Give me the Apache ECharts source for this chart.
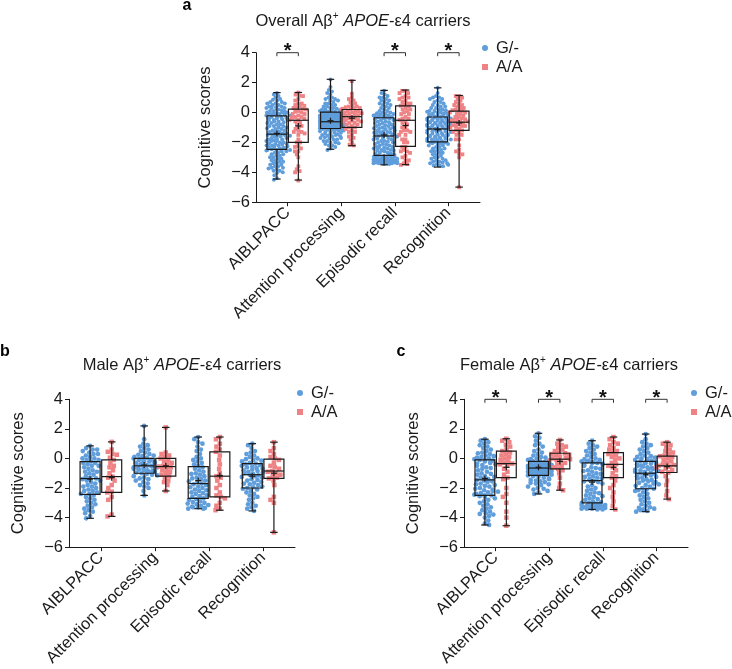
<!DOCTYPE html>
<html>
<head>
<meta charset="utf-8">
<script src="https://cdn.jsdelivr.net/npm/echarts@6/dist/echarts.min.js"></script>
<style>
html, body { margin: 0; padding: 0; background: #fff; }
#chart { width: 732px; height: 669px; }
</style>
</head>
<body>
<div id="chart"></div>
<script>
var categories = ['AIBLPACC', 'Attention processing', 'Episodic recall', 'Recognition'];
var groups = ['G/-', 'A/A'];
var yTicks = [-6, -4, -2, 0, 2, 4];

// box stats per category: [min, Q1, median, Q3, max, mean]
var overallGBox = [[-4.45, -2.47, -1.45, -0.22, 1.33, -1.4], [-2.46, -1.07, -0.62, 0.02, 2.22, -0.55], [-3.5, -2.87, -1.57, -0.35, 1.48, -1.5], [-3.65, -1.97, -1.1, -0.3, 1.65, -1.15]];
var overallABox = [[-4.52, -2.0, -0.52, 0.22, 1.34, -0.9], [-2.22, -1.0, -0.28, 0.2, 2.15, -0.38], [-3.49, -2.26, -0.52, 0.44, 1.5, -0.87], [-4.99, -1.19, -0.65, 0.09, 1.14, -0.7]];
var maleGBox = [[-4.05, -2.43, -1.36, -0.21, 0.85, -1.4], [-2.5, -1.0, -0.5, 0.0, 2.2, -0.45], [-3.4, -2.7, -1.7, -0.55, 1.45, -1.5], [-3.55, -2.0, -1.1, -0.35, 1.0, -1.2]];
var maleABox = [[-3.92, -2.29, -1.23, -0.1, 1.12, -1.3], [-2.2, -1.2, -0.55, 0.0, 2.1, -0.5], [-3.5, -2.6, -1.2, 0.45, 1.45, -1.15], [-5.0, -1.35, -0.85, -0.05, 1.1, -1.0]];
var femaleGBox = [[-4.5, -2.5, -1.45, -0.1, 1.3, -1.35], [-2.4, -1.15, -0.65, -0.2, 1.7, -0.6], [-3.45, -3.0, -1.5, -0.3, 1.2, -1.6], [-3.6, -2.05, -1.0, -0.2, 1.65, -1.1]];
var femaleABox = [[-4.55, -1.3, -0.35, 0.5, 1.33, -0.6], [-2.15, -0.7, -0.05, 0.35, 1.25, -0.2], [-3.45, -1.3, -0.4, 0.4, 1.45, -0.6], [-2.75, -0.95, -0.5, 0.15, 1.1, -0.55]];

// individual scores (male / female); overall carriers = male + female
var maleGPts = [
  [0.85, 0.7, 0.6, 0.6, 0.5, 0.4, 0.3, 0.3, 0.2, 0.1, 0.0, 0.0, -0.1, -0.1, -0.2,
   -0.3, -0.3, -0.4, -0.5, -0.5, -0.6, -0.7, -0.8, -0.9, -0.9, -1.0, -1.1, -1.2, -1.3, -1.35,
   -1.4, -1.5, -1.5, -1.6, -1.7, -1.8, -1.9, -1.9, -2.0, -2.1, -2.2, -2.2, -2.3, -2.4, -2.4,
   -2.5, -2.6, -2.7, -2.8, -2.9, -3.0, -3.1, -3.2, -3.3, -3.4, -3.5, -3.6, -3.7, -3.9, -4.05],
  [2.2, 1.3, 1.0, 0.9, 0.8, 0.7, 0.6, 0.5, 0.4, 0.3, 0.25, 0.2, 0.15, 0.1, 0.05,
   0.0, -0.05, -0.1, -0.1, -0.15, -0.2, -0.2, -0.25, -0.3, -0.3, -0.35, -0.4, -0.4, -0.45, -0.5,
   -0.5, -0.55, -0.6, -0.6, -0.65, -0.7, -0.7, -0.75, -0.8, -0.8, -0.85, -0.9, -0.9, -0.95, -1.0,
   -1.05, -1.1, -1.15, -1.2, -1.3, -1.35, -1.4, -1.5, -1.6, -1.7, -1.8, -1.9, -2.0, -2.2, -2.5],
  [1.45, 1.3, 1.1, 1.0, 0.8, 0.6, 0.5, 0.3, 0.1, 0.0, -0.1, -0.2, -0.3, -0.4, -0.5,
   -0.6, -0.7, -0.8, -0.9, -1.0, -1.05, -1.1, -1.2, -1.3, -1.35, -1.4, -1.5, -1.55, -1.6, -1.7,
   -1.75, -1.8, -1.9, -1.95, -2.0, -2.1, -2.15, -2.2, -2.3, -2.35, -2.4, -2.5, -2.55, -2.6, -2.7,
   -2.75, -2.8, -2.9, -2.95, -3.0, -3.05, -3.1, -3.15, -3.2, -3.25, -3.3, -3.3, -3.35, -3.4, -3.4],
  [1.0, 0.9, 0.7, 0.5, 0.4, 0.3, 0.2, 0.1, 0.0, -0.05, -0.1, -0.15, -0.2, -0.3, -0.35,
   -0.4, -0.45, -0.5, -0.55, -0.6, -0.65, -0.7, -0.75, -0.8, -0.85, -0.9, -0.95, -1.0, -1.05, -1.1,
   -1.15, -1.2, -1.25, -1.3, -1.4, -1.45, -1.5, -1.6, -1.65, -1.7, -1.75, -1.8, -1.9, -1.95, -2.0,
   -2.05, -2.1, -2.2, -2.3, -2.4, -2.5, -2.6, -2.7, -2.8, -3.0, -3.1, -3.2, -3.3, -3.4, -3.55]
];
var maleAPts = [
  [1.12, 0.6, 0.45, 0.3, 0.25, 0.05, -0.1, -0.3, -0.5, -0.6, -0.8, -1.0, -1.23, -1.3, -1.5, -1.8, -2.0, -2.25, -2.3, -2.6, -2.8, -3.8, -3.92],
  [2.1, 0.4, 0.3, 0.2, 0.1, 0.0, -0.1, -0.2, -0.3, -0.4, -0.5, -0.55, -0.6, -0.7, -0.8, -0.9, -1.0, -1.1, -1.2, -1.3, -1.5, -1.6, -1.8, -2.2],
  [1.45, 1.3, 1.0, 0.8, 0.6, 0.45, 0.2, -0.1, -0.4, -0.7, -1.0, -1.2, -1.3, -1.5, -1.8, -2.0, -2.3, -2.5, -2.6, -2.7, -3.0, -3.2, -3.4, -3.5],
  [1.1, 0.7, 0.5, 0.3, 0.1, 0.0, -0.1, -0.3, -0.5, -0.6, -0.7, -0.85, -0.9, -1.0, -1.1, -1.2, -1.3, -1.35, -1.5, -1.8, -2.6, -2.8, -3.0, -5.0]
];
var femaleGPts = [
  [1.3, 1.2, 1.1, 1.0, 0.9, 0.8, 0.7, 0.6, 0.5, 0.4, 0.35, 0.3, 0.2, 0.15, 0.1, 0.05, 0.0, -0.05, -0.1, -0.1,
   -0.15, -0.2, -0.3, -0.35, -0.4, -0.45, -0.5, -0.6, -0.65, -0.7, -0.8, -0.9, -1.0, -1.05, -1.1, -1.2, -1.25, -1.3, -1.4, -1.45,
   -1.5, -1.55, -1.6, -1.7, -1.75, -1.8, -1.85, -1.9, -2.0, -2.05, -2.1, -2.15, -2.2, -2.25, -2.3, -2.35, -2.4, -2.45, -2.5, -2.5,
   -2.55, -2.6, -2.7, -2.8, -2.9, -3.0, -3.1, -3.2, -3.3, -3.4, -3.5, -3.6, -3.7, -3.75, -3.8, -3.9, -4.0, -4.2, -4.4, -4.5],
  [1.7, 1.5, 1.4, 1.2, 1.0, 0.9, 0.8, 0.6, 0.5, 0.4, 0.3, 0.2, 0.1, 0.05, 0.0, -0.05, -0.1, -0.15, -0.2, -0.2,
   -0.25, -0.3, -0.3, -0.35, -0.35, -0.4, -0.4, -0.45, -0.45, -0.5, -0.5, -0.5, -0.55, -0.55, -0.6, -0.6, -0.6, -0.65, -0.65, -0.65,
   -0.7, -0.7, -0.7, -0.75, -0.75, -0.8, -0.8, -0.85, -0.85, -0.9, -0.9, -0.95, -0.95, -1.0, -1.0, -1.05, -1.05, -1.1, -1.1, -1.15,
   -1.2, -1.25, -1.3, -1.35, -1.4, -1.45, -1.5, -1.55, -1.6, -1.65, -1.7, -1.75, -1.8, -1.9, -2.0, -2.05, -2.1, -2.2, -2.3, -2.4],
  [1.2, 1.0, 0.9, 0.8, 0.7, 0.6, 0.5, 0.4, 0.3, 0.2, 0.1, 0.0, -0.05, -0.1, -0.15, -0.2, -0.2, -0.25, -0.3, -0.3,
   -0.35, -0.4, -0.45, -0.5, -0.6, -0.65, -0.7, -0.8, -0.85, -0.9, -1.0, -1.05, -1.1, -1.2, -1.25, -1.3, -1.35, -1.4, -1.45, -1.5,
   -1.55, -1.6, -1.7, -1.8, -1.9, -2.0, -2.1, -2.2, -2.3, -2.35, -2.4, -2.5, -2.55, -2.6, -2.7, -2.75, -2.8, -2.9, -2.95, -3.0,
   -3.0, -3.05, -3.1, -3.1, -3.15, -3.15, -3.2, -3.2, -3.25, -3.25, -3.3, -3.3, -3.3, -3.35, -3.35, -3.4, -3.4, -3.4, -3.45, -3.45],
  [1.65, 1.3, 1.1, 1.0, 0.9, 0.8, 0.7, 0.6, 0.5, 0.4, 0.3, 0.2, 0.15, 0.1, 0.05, 0.0, -0.05, -0.1, -0.15, -0.2,
   -0.25, -0.3, -0.3, -0.35, -0.4, -0.45, -0.5, -0.5, -0.55, -0.6, -0.65, -0.7, -0.7, -0.75, -0.8, -0.85, -0.9, -0.9, -0.95, -1.0,
   -1.05, -1.1, -1.15, -1.2, -1.25, -1.3, -1.35, -1.4, -1.45, -1.5, -1.55, -1.6, -1.65, -1.7, -1.75, -1.8, -1.85, -1.9, -2.0, -2.05,
   -2.1, -2.15, -2.2, -2.3, -2.4, -2.5, -2.6, -2.7, -2.8, -2.9, -3.0, -3.1, -3.2, -3.3, -3.35, -3.4, -3.45, -3.5, -3.55, -3.6]
];
var femaleAPts = [
  [1.33, 1.2, 1.1, 0.9, 0.8, 0.6, 0.5, 0.4, 0.3, 0.2, 0.1, 0.0, -0.1, -0.2, -0.3, -0.35, -0.4, -0.5, -0.7, -0.9, -1.1, -1.3, -1.4, -2.0, -2.4, -2.6, -3.0, -3.6, -4.0, -4.55],
  [1.25, 1.0, 0.9, 0.8, 0.7, 0.6, 0.5, 0.4, 0.35, 0.3, 0.25, 0.2, 0.1, 0.05, 0.0, -0.05, -0.1, -0.15, -0.2, -0.3, -0.4, -0.5, -0.6, -0.7, -0.8, -1.0, -1.3, -1.7, -2.0, -2.15],
  [1.45, 1.3, 1.1, 1.0, 0.9, 0.7, 0.6, 0.5, 0.4, 0.3, 0.2, 0.1, 0.0, -0.1, -0.3, -0.4, -0.5, -0.6, -0.8, -1.0, -1.2, -1.3, -1.5, -1.8, -2.0, -2.3, -2.6, -2.9, -3.2, -3.45],
  [1.1, 1.0, 0.9, 0.8, 0.6, 0.5, 0.4, 0.3, 0.2, 0.15, 0.1, 0.0, -0.1, -0.2, -0.3, -0.4, -0.45, -0.5, -0.55, -0.6, -0.7, -0.8, -0.9, -0.95, -1.2, -1.5, -1.8, -2.2, -2.5, -2.75]
];
var overallGPts = maleGPts.map(function (a, i) { return a.concat(femaleGPts[i]); });
var overallAPts = maleAPts.map(function (a, i) { return a.concat(femaleAPts[i]); });

// significance (1 = * shown) per category
var overallSig = [1, 0, 1, 1];
var maleSig = [0, 0, 0, 0];
var femaleSig = [1, 1, 1, 1];

var FONT = "'Liberation Sans', Arial, Helvetica, sans-serif";
var FS = 16.5;
var BLUE = '#5f9ddb';
var RED = '#ee8284';
var INK = '#1a1a1a';
var X_MIN = -0.59, X_MAX = 3.59;
var OFFSET = 0.2, BOX_HALF = 0.185, CAP_HALF = 0.07;

var panels = [
  { title: 'Overall', letter: 'a', grid: { left: 256, top: 52.7, width: 224, height: 149.5 },
    gBox: overallGBox, aBox: overallABox, gPts: overallGPts, aPts: overallAPts, sig: overallSig,
    dot: 4.0, gap: 3.4, letterPos: [187, 6], titleX: 363, titleTop: 11, legend: [482, 39] },
  { title: 'Male', letter: 'b', grid: { left: 69, top: 399.3, width: 226, height: 148 },
    gBox: maleGBox, aBox: maleABox, gPts: maleGPts, aPts: maleAPts, sig: maleSig,
    dot: 4.7, gap: 4.5, letterPos: [5, 352], titleX: 182, titleTop: 355, legend: [297, 384] },
  { title: 'Female', letter: 'c', grid: { left: 464, top: 399.3, width: 224, height: 148 },
    gBox: femaleGBox, aBox: femaleABox, gPts: femaleGPts, aPts: femaleAPts, sig: femaleSig,
    dot: 4.7, gap: 4.5, letterPos: [401, 352], titleX: 569, titleTop: 355, legend: [691, 384] }
];

// beeswarm layout: horizontal offsets (px) so that dots do not collide
function swarm(values, gapPx, pxPerY, maxHalf) {
  var order = values.map(function (v, i) { return { v: v, i: i }; })
    .sort(function (a, b) { return b.v - a.v; });
  var placed = [], out = [], overflow = 0;
  order.forEach(function (p) {
    var y = p.v * pxPerY;
    var iv = [];
    placed.forEach(function (q) {
      var dy = Math.abs(q.y - y);
      if (dy < gapPx) {
        var dx = Math.sqrt(gapPx * gapPx - dy * dy);
        iv.push([q.x - dx, q.x + dx]);
      }
    });
    var cands = [0];
    iv.forEach(function (r) { cands.push(r[0], r[1]); });
    cands.sort(function (a, b) { return Math.abs(a) - Math.abs(b) || a - b; });
    var x = null;
    for (var k = 0; k < cands.length; k++) {
      var c = cands[k];
      if (Math.abs(c) > maxHalf + 0.01) break;
      var ok = iv.every(function (r) { return c <= r[0] + 1e-6 || c >= r[1] - 1e-6; });
      if (ok) { x = c; break; }
    }
    if (x === null) {
      x = ((overflow % 5) - 2) * maxHalf / 2 + ((Math.floor(overflow / 5) % 2) ? maxHalf / 4 : 0);
      overflow++;
    }
    placed.push({ x: x, y: y });
    out[p.i] = x;
  });
  return out;
}

function pointData(pts, side, p) {
  var pxX = p.grid.width / (X_MAX - X_MIN);
  var pxY = p.grid.height / 10;
  var data = [];
  pts.forEach(function (vals, ci) {
    var offs = swarm(vals, p.gap, pxY, 10.5);
    vals.forEach(function (v, j) {
      data.push([ci + side * OFFSET + offs[j] / pxX, v]);
    });
  });
  return data;
}

function renderBox(params, api) {
  var x = api.value(0);
  var mn = api.coord([x, api.value(1)]);
  var q1 = api.coord([x, api.value(2)]);
  var md = api.coord([x, api.value(3)]);
  var q3 = api.coord([x, api.value(4)]);
  var mx = api.coord([x, api.value(5)]);
  var mean = api.coord([x, api.value(6)]);
  var cx = md[0];
  var hw = api.size([BOX_HALF, 0])[0];
  var cap = api.size([CAP_HALF, 0])[0];
  var st = { stroke: INK, lineWidth: 1.2, fill: 'none' };
  function ln(x1, y1, x2, y2) { return { type: 'line', shape: { x1: x1, y1: y1, x2: x2, y2: y2 }, style: st }; }
  return {
    type: 'group',
    children: [
      { type: 'rect', shape: { x: cx - hw, y: q3[1], width: 2 * hw, height: q1[1] - q3[1] }, style: st },
      ln(cx - hw, md[1], cx + hw, md[1]),
      ln(cx, q3[1], cx, mx[1]),
      ln(cx, q1[1], cx, mn[1]),
      ln(cx - cap, mx[1], cx + cap, mx[1]),
      ln(cx - cap, mn[1], cx + cap, mn[1]),
      ln(cx - 3, mean[1], cx + 3, mean[1]),
      ln(cx, mean[1] - 3, cx, mean[1] + 3)
    ]
  };
}

function renderSig(params, api) {
  var c = api.value(0);
  var l = api.coord([c - OFFSET, 4]);
  var r = api.coord([c + OFFSET, 4]);
  return {
    type: 'group',
    children: [
      { type: 'polyline', shape: { points: [[l[0], l[1] + 3.5], [l[0], l[1]], [r[0], r[1]], [r[0], r[1] + 3.5]] },
        style: { stroke: '#333', lineWidth: 1, fill: 'none' } },
      { type: 'text', x: (l[0] + r[0]) / 2, y: l[1] - 1,
        style: { text: '*', fontSize: 20, fontWeight: 'bold', fontFamily: FONT, fill: '#111', align: 'center', verticalAlign: 'middle' } }
    ]
  };
}

var grids = [], xAxes = [], yAxes = [], series = [], titles = [], legends = [], graphics = [];
panels.forEach(function (p, i) {
  grids.push(p.grid);
  xAxes.push({
    type: 'value', gridIndex: i, min: X_MIN, max: X_MAX,
    splitLine: { show: false },
    axisLine: { onZero: false, lineStyle: { color: INK, width: 1 } },
    axisTick: { customValues: [0, 1, 2, 3], length: 4, lineStyle: { color: INK } },
    axisLabel: {
      customValues: [0, 1, 2, 3], rotate: 45, margin: 8, fontSize: FS, color: INK, fontFamily: FONT,
      formatter: function (v) { return categories[Math.round(v)]; }
    }
  });
  yAxes.push({
    type: 'value', gridIndex: i, min: yTicks[0], max: yTicks[yTicks.length - 1], interval: 2,
    name: 'Cognitive scores', nameLocation: 'middle', nameGap: 42,
    nameTextStyle: { fontSize: FS, color: INK, fontFamily: FONT },
    splitLine: { show: false },
    axisLine: { show: true, onZero: false, lineStyle: { color: INK, width: 1 } },
    axisTick: { show: true, length: 4, lineStyle: { color: INK } },
    axisLabel: { margin: 6, fontSize: FS, color: INK, fontFamily: FONT,
      formatter: function (v) { return String(v).replace('-', '\u2212'); } }
  });
  series.push({
    name: groups[0], type: 'scatter', xAxisIndex: i, yAxisIndex: i, symbol: 'circle', symbolSize: p.dot,
    itemStyle: { color: BLUE, opacity: 1 }, z: 2, silent: true,
    data: pointData(p.gPts, -1, p)
  });
  series.push({
    name: groups[1], type: 'scatter', xAxisIndex: i, yAxisIndex: i, symbol: 'rect', symbolSize: p.dot - 0.2,
    itemStyle: { color: RED, opacity: 1 }, z: 2, silent: true,
    data: pointData(p.aPts, 1, p)
  });
  var boxData = [];
  p.gBox.forEach(function (b, ci) { boxData.push([ci - OFFSET].concat(b)); });
  p.aBox.forEach(function (b, ci) { boxData.push([ci + OFFSET].concat(b)); });
  series.push({
    type: 'custom', xAxisIndex: i, yAxisIndex: i, renderItem: renderBox, z: 4, silent: true,
    encode: { x: 0, y: [1, 2, 3, 4, 5] }, data: boxData
  });
  var sigData = [];
  p.sig.forEach(function (s, ci) { if (s) sigData.push([ci, 4]); });
  series.push({
    type: 'custom', xAxisIndex: i, yAxisIndex: i, renderItem: renderSig, z: 4, silent: true, clip: false,
    encode: { x: 0, y: 1 }, data: sigData
  });
  titles.push({
    text: '{n|' + p.title + ' A\u03b2}{s|+}{n| }{i|APOE}{n|-\u03b54 carriers}',
    left: p.titleX, top: p.titleTop, textAlign: 'center', padding: 0,
    textStyle: {
      fontWeight: 'normal',
      rich: {
        n: { fontSize: FS, color: INK, fontFamily: FONT, fontWeight: 'normal', lineHeight: 20 },
        i: { fontSize: FS, color: INK, fontFamily: FONT, fontWeight: 'normal', fontStyle: 'italic', lineHeight: 20 },
        s: { fontSize: 10, color: INK, fontFamily: FONT, fontWeight: 'normal', verticalAlign: 'top', lineHeight: 14 }
      }
    }
  });
  legends.push({
    data: [{ name: groups[0], icon: 'circle' }, { name: groups[1], icon: 'rect' }],
    orient: 'vertical', left: p.legend[0], top: p.legend[1], padding: 0,
    itemWidth: 6, itemHeight: 6, itemGap: 1, selectedMode: false,
    textStyle: { fontSize: FS, color: INK, fontFamily: FONT, lineHeight: 18, padding: [0, 0, 0, 3] }
  });
  graphics.push({
    type: 'text', x: p.letterPos[0], y: p.letterPos[1],
    style: { text: p.letter, fontSize: 16, fontWeight: 'bold', fontFamily: FONT, fill: '#000', align: 'center', verticalAlign: 'middle' }
  });
});

var chart = echarts.init(document.getElementById('chart'), null, { renderer: 'canvas' });
chart.setOption({
  animation: false,
  backgroundColor: '#fff',
  title: titles,
  legend: legends,
  grid: grids,
  xAxis: xAxes,
  yAxis: yAxes,
  series: series,
  graphic: graphics
});
</script>
</body>
</html>
